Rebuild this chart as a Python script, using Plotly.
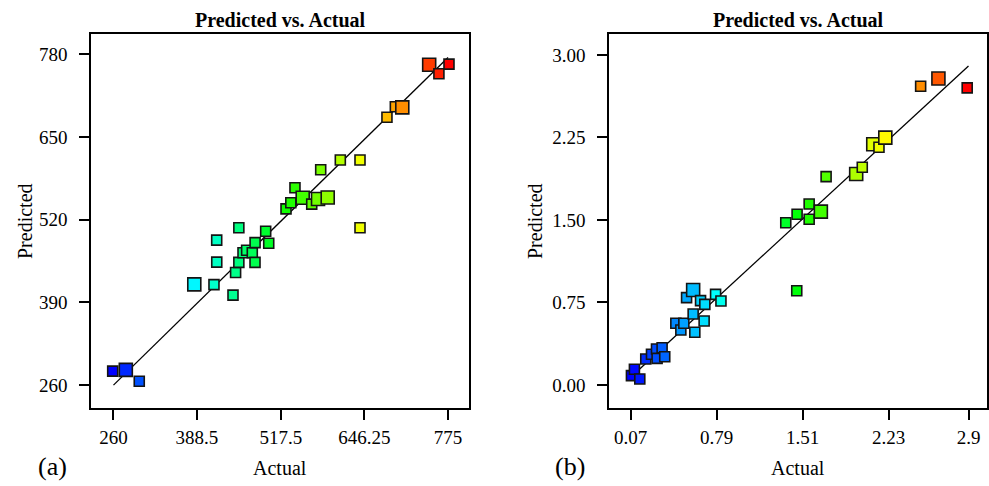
import plotly.graph_objects as go

# ---- data: panel (a) ----
actual_a = [258.8, 279.0, 299.7, 384.4, 414.7, 418.9, 419.0, 444.0, 448.0, 453.0, 453.0,
            459.4, 465.0, 473.7, 477.9, 478.0, 499.0, 494.3, 525.6, 533.0, 539.4, 551.3,
            565.2, 574.9, 589.8, 579.0, 609.2, 639.5, 639.5, 681.0, 693.9, 704.6, 746.0,
            761.0, 776.5]
pred_a = [282.0, 284.0, 266.0, 418.4, 418.0, 488.0, 453.4, 401.5, 437.0, 453.0, 507.4,
          468.0, 472.0, 468.0, 453.0, 484.0, 483.0, 502.0, 537.0, 546.7, 570.3, 554.5,
          544.6, 552.5, 555.0, 598.6, 614.0, 614.0, 507.4, 681.0, 697.6, 696.7, 763.6,
          749.5, 764.7]
xticks_a = [260, 388.5, 517.5, 646.25, 775]
xtick_text_a = ["260", "388.5", "517.5", "646.25", "775"]
yticks_a = [260, 390, 520, 650, 780]
ytick_text_a = ["260", "390", "520", "650", "780"]

# ---- data: panel (b) ----
actual_b = [0.076, 0.101, 0.146, 0.196, 0.244, 0.286, 0.291, 0.333, 0.355, 0.448, 0.49,
            0.515, 0.538, 0.593, 0.593, 0.607, 0.655, 0.685, 0.691, 0.781, 0.826, 1.369,
            1.461, 1.464, 1.565, 1.565, 1.663, 1.707, 1.959, 2.01, 2.102, 2.15, 2.203,
            2.499, 2.648, 2.889]
pred_b = [0.085, 0.143, 0.055, 0.236, 0.279, 0.327, 0.242, 0.339, 0.257, 0.561, 0.5,
          0.561, 0.794, 0.864, 0.645, 0.479, 0.767, 0.582, 0.733, 0.824, 0.764, 1.475,
          0.857, 1.552, 1.645, 1.506, 1.576, 1.894, 1.918, 1.979, 2.188, 2.161, 2.248,
          2.715, 2.785, 2.7]
xticks_b = [0.07, 0.79, 1.51, 2.23, 2.9]
xtick_text_b = ["0.07", "0.79", "1.51", "2.23", "2.9"]
yticks_b = [0.0, 0.75, 1.5, 2.25, 3.0]
ytick_text_b = ["0.00", "0.75", "1.50", "2.25", "3.00"]

# marker emphasis (overlapping points drawn larger)
big_a = {1, 3, 21, 23, 24, 31, 32}
big_b = {13, 26, 28, 30, 32, 34}

FONT = "Liberation Serif"
jet = [[0, "rgb(0,0,255)"], [0.25, "rgb(0,255,255)"], [0.5, "rgb(0,255,0)"],
       [0.75, "rgb(255,255,0)"], [1, "rgb(255,0,0)"]]

fig = go.Figure()


def add_panel(act, pred, big, xref, yref, lo, hi):
    fig.add_trace(go.Scatter(x=[lo, hi], y=[lo, hi], mode="lines",
                             line=dict(color="black", width=1.3),
                             xaxis=xref, yaxis=yref, showlegend=False, hoverinfo="skip"))
    fig.add_trace(go.Scatter(
        x=act, y=pred, mode="markers", xaxis=xref, yaxis=yref, showlegend=False,
        marker=dict(symbol="square", size=[13 if i in big else 10 for i in range(len(act))],
                    opacity=1, color=act, colorscale=jet, cmin=min(act), cmax=max(act),
                    line=dict(color="#141414", width=1.6))))


add_panel(actual_a, pred_a, big_a, "x", "y", xticks_a[0], xticks_a[-1])
add_panel(actual_b, pred_b, big_b, "x2", "y2", xticks_b[0], xticks_b[-1])

W, H = 989, 486


def xd(a, b):
    return [a / W, b / W]


ydom = [1 - 408 / H, 1 - 34 / H]
axis_common = dict(showgrid=False, zeroline=False, showline=True, mirror=True,
                   linecolor="black", linewidth=1.5, ticks="outside", ticklen=10,
                   tickwidth=1.5, tickcolor="black",
                   tickfont=dict(family=FONT, size=19, color="black"))

fig.update_layout(
    width=W, height=H, margin=dict(l=0, r=0, t=0, b=0),
    paper_bgcolor="white", plot_bgcolor="white",
    xaxis=dict(domain=xd(91, 469), range=[225.4, 807.3], tickvals=xticks_a,
               ticktext=xtick_text_a, anchor="y", ticklabelstandoff=1, **axis_common),
    yaxis=dict(domain=ydom, range=[224.0, 812.0], tickvals=yticks_a,
               ticktext=ytick_text_a, anchor="x", ticklabelstandoff=8, **axis_common),
    xaxis2=dict(domain=xd(609, 987), range=[-0.112, 3.055], tickvals=xticks_b,
                ticktext=xtick_text_b, anchor="y2", ticklabelstandoff=1, **axis_common),
    yaxis2=dict(domain=ydom, range=[-0.209, 3.19], tickvals=yticks_b,
                ticktext=ytick_text_b, anchor="x2", ticklabelstandoff=8, **axis_common),
)

ann = []
for cx, cy_lab, ylab_x, tag_x, tag in [(280, 468, 25, 52, "(a)"), (798, 468, 535, 570, "(b)")]:
    ann.append(dict(x=cx / W, y=1 - 20 / H, xref="paper", yref="paper", showarrow=False,
                    text="<b>Predicted vs. Actual</b>", xanchor="center", yanchor="middle",
                    font=dict(family=FONT, size=20, color="black")))
    ann.append(dict(x=cx / W, y=1 - cy_lab / H, xref="paper", yref="paper", showarrow=False,
                    text="Actual", xanchor="center", yanchor="middle",
                    font=dict(family=FONT, size=20, color="black")))
    ann.append(dict(x=ylab_x / W, y=1 - 221 / H, xref="paper", yref="paper", showarrow=False,
                    text="Predicted", textangle=-90, xanchor="center", yanchor="middle",
                    font=dict(family=FONT, size=20, color="black")))
    ann.append(dict(x=tag_x / W, y=1 - 466 / H, xref="paper", yref="paper", showarrow=False,
                    text=tag, xanchor="center", yanchor="middle",
                    font=dict(family=FONT, size=26, color="black")))
fig.update_layout(annotations=ann)

fig.write_html("out.html")
